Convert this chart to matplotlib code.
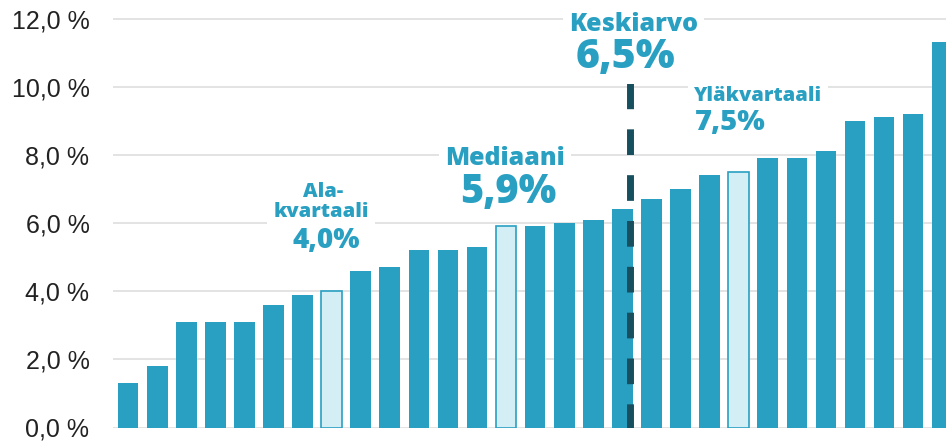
# Palkkikaavio: arvot järjestyksessä, kvartaalit, mediaani ja keskiarvo merkitty
import numpy as np
import matplotlib.pyplot as plt
from matplotlib.patches import Rectangle
from matplotlib.ticker import FuncFormatter

# data
values = [1.3, 1.8, 3.1, 3.1, 3.1, 3.6, 3.9, 4.0, 4.6, 4.7, 5.2, 5.2, 5.3, 5.9,
          5.9, 6.0, 6.1, 6.4, 6.7, 7.0, 7.4, 7.5, 7.9, 7.9, 8.1, 9.0, 9.1, 9.2, 11.3]
highlight_idx = [7, 13, 21]          # alakvartaali, mediaani, yläkvartaali
y_ticks = [0, 2, 4, 6, 8, 10, 12]

lower_q = 4.0
median = 5.9
mean = 6.5
upper_q = 7.5
mean_pos = 17.25                     # keskiarvoviivan paikka palkkien välissä

#colors
TEAL       = '#29a0c2'
LIGHT      = '#d3eef5'
DARK       = '#174f5f'
LABEL_FONT = ['Open Sans', 'DejaVu Sans']

plt.rcParams['font.family'] = ['Liberation Sans', 'DejaVu Sans']

fig = plt.figure(figsize=(9.46, 4.41), dpi=100)
ax = fig.add_axes([113 / 946, 13.5 / 441, 1 - 113 / 946, 427.5 / 441])

x = np.arange(len(values))
colors = [LIGHT if i in highlight_idx else TEAL for i in x]
ax.bar(x, values, width=0.71, color=colors, edgecolor=TEAL,
       linewidth=[1.2 if i in highlight_idx else 0 for i in x], zorder=3)

# mean line
ax.plot([mean_pos, mean_pos], [10.1, 0], color=DARK, lw=5,
        linestyle=(0, (3.7, 2.9)), zorder=4)

ax.set_xlim(-0.52, 28.13)
ax.set_ylim(0, 12 * 427.5 / 409)
ax.set_yticks(y_ticks)
ax.yaxis.set_major_formatter(FuncFormatter(lambda v, p: f"{v:.1f}".replace('.', ',') + ' %'))
ax.tick_params(axis='y', length=0, pad=17, labelsize=18, labelcolor='#222222')
ax.set_xticks([])
ax.grid(axis='y', color='#dedede', lw=1.2, zorder=0)
ax.set_axisbelow(True)
for s in ax.spines.values():
    s.set_visible(False)

def fmt(v):
    return f"{v:.1f}".replace('.', ',') + '%'

labels = []

def label(xp, yp, s, size, ha='center'):
    t = ax.text(xp, yp, s, ha=ha, va='baseline', fontsize=size, color=TEAL,
                family=LABEL_FONT, fontweight=800, zorder=6, clip_on=False)
    labels.append(t)

# annotations
label(6.70, 6.76, 'Ala-', 14.5)
label(6.64, 6.18, 'kvartaali', 14.5)
label(6.81, 5.27, fmt(lower_q), 20)

label(12.95, 7.70, 'Mediaani', 18)
label(13.07, 6.58, fmt(median), 28.5)

label(17.37, 11.64, 'Keskiarvo', 18)
label(17.09, 10.55, fmt(mean), 29.5)

label(19.46, 9.58, 'Yläkvartaali', 14.5, ha='left')
label(19.50, 8.73, fmt(upper_q), 21, ha='left')

# white boxes behind labels so the gridlines break around them
fig.canvas.draw()
inv = ax.transAxes.inverted()
for t in labels:
    bb = t.get_window_extent().padded(6)
    (x0, y0), (x1, y1) = inv.transform([[bb.x0, bb.y0], [bb.x1, bb.y1]])
    ax.add_patch(Rectangle((x0, y0), x1 - x0, y1 - y0, transform=ax.transAxes,
                           facecolor='white', edgecolor='none', zorder=5, clip_on=False))

plt.savefig('out.png', dpi=100)
